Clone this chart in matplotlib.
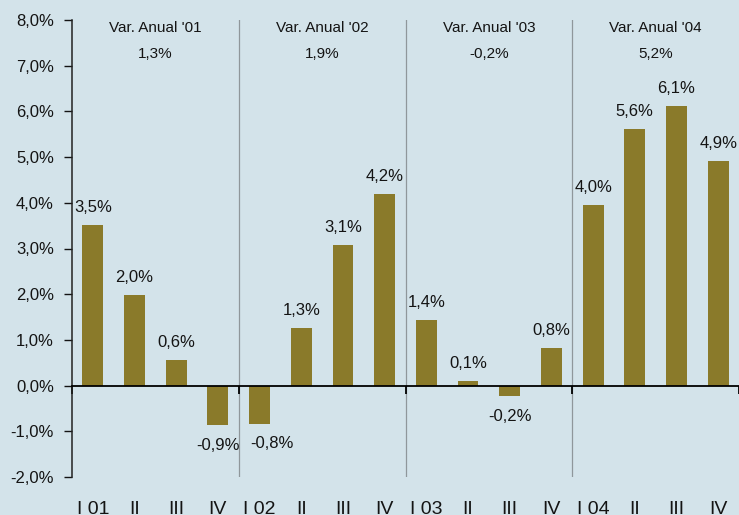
import matplotlib
matplotlib.use("Agg")
import matplotlib.pyplot as plt
from matplotlib import font_manager
from matplotlib.ticker import FuncFormatter, FixedLocator

names = {f.name for f in font_manager.fontManager.ttflist}
FAM = [n for n in ["Liberation Sans", "DejaVu Sans"] if n in names] or ["DejaVu Sans"]
plt.rcParams['font.family'] = FAM

quarters = ["I 01", "II", "III", "IV", "I 02", "II", "III", "IV",
            "I 03", "II", "III", "IV", "I 04", "II", "III", "IV"]
values = [3.52, 1.99, 0.57, -0.87, -0.83, 1.27, 3.08, 4.2,
          1.44, 0.11, -0.23, 0.83, 3.96, 5.62, 6.12, 4.92]
value_labels = ["3,5%", "2,0%", "0,6%", "-0,9%", "-0,8%", "1,3%", "3,1%", "4,2%",
                "1,4%", "0,1%", "-0,2%", "0,8%", "4,0%", "5,6%", "6,1%", "4,9%"]
group_titles = ["Var. Anual '01", "Var. Anual '02", "Var. Anual '03", "Var. Anual '04"]
group_values = ["1,3%", "1,9%", "-0,2%", "5,2%"]

BG = "#d3e3ea"
BAR = "#8a7a2a"
TXT = "#141414"

fig = plt.figure(figsize=(7.39, 5.15), dpi=100, facecolor=BG)
ax = fig.add_axes([72/739, 1-477/515, 1-72/739, (477-20)/515])
ax.set_facecolor(BG)

x = list(range(len(values)))
ax.bar(x, values, width=0.5, color=BAR, zorder=2)
ax.set_xlim(-0.5, len(values) - 0.5)
ax.set_ylim(-2, 8)

# label nudges (points) to keep labels clear of the group separators
nudge = {4: 9}
for i, (xi, v, lab) in enumerate(zip(x, values, value_labels)):
    dx = nudge.get(i, 0)
    if v >= 0:
        ax.annotate(lab, (xi, v), xytext=(dx, 7), textcoords='offset points',
                    ha='center', va='bottom', fontsize=12, color=TXT)
    else:
        ax.annotate(lab, (xi, v), xytext=(dx, -9), textcoords='offset points',
                    ha='center', va='top', fontsize=12, color=TXT)

# separators
for b in [3.5, 7.5, 11.5]:
    ax.axvline(b, color='#8f979b', lw=0.9, zorder=1)

# group titles
for g, (t, gv) in enumerate(zip(group_titles, group_values)):
    cx = g * 4 + 1.5
    ax.text(cx, 0.982, t, transform=ax.get_xaxis_transform(), ha='center', va='center',
            fontsize=11, color=TXT)
    ax.text(cx, 0.926, gv, transform=ax.get_xaxis_transform(), ha='center', va='center',
            fontsize=11, color=TXT)

# y axis
ax.set_yticks(range(-2, 9))
ax.yaxis.set_major_formatter(FuncFormatter(lambda v, p: f"{v:.1f}%".replace('.', ',')))
ax.tick_params(axis='y', direction='out', length=6, width=1, pad=7, labelsize=12,
               colors=TXT)
for s in ['top', 'right']:
    ax.spines[s].set_visible(False)
ax.spines['left'].set_color('#222222')
ax.spines['left'].set_linewidth(1.1)

# zero line as bottom spine
ax.spines['bottom'].set_position(('data', 0))
ax.spines['bottom'].set_color('black')
ax.spines['bottom'].set_linewidth(1.3)
ax.xaxis.set_major_locator(FixedLocator([-0.5, 3.5, 7.5, 11.5, 15.5]))
ax.tick_params(axis='x', direction='out', length=6, width=1.3, labelbottom=False)

sec = ax.secondary_xaxis('bottom')
sec.set_xticks(x)
sec.set_xticklabels(quarters)
sec.tick_params(axis='x', length=0, pad=17, labelsize=14, colors=TXT)
sec.spines['bottom'].set_visible(False)

fig.savefig("out.png", dpi=100, facecolor=BG)
